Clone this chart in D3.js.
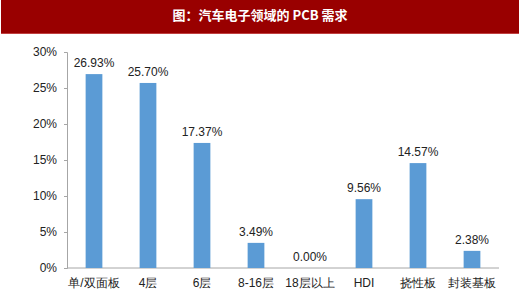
<!DOCTYPE html>
<html>
<head>
<meta charset="utf-8">
<script src="https://cdn.jsdelivr.net/npm/d3@7"></script>
<style>
  body { margin: 0; background: #fff; }
  svg { display: block; font-family: "Liberation Sans", Arial, "Noto Sans CJK SC", sans-serif; }
</style>
</head>
<body>
<svg id="chart" width="520" height="295"></svg>
<script>
const categories = ["单/双面板", "4层", "6层", "8-16层", "18层以上", "HDI", "挠性板", "封装基板"];
const shares = [26.93, 25.70, 17.37, 3.49, 0.00, 9.56, 14.57, 2.38];
const yTicks = [0, 5, 10, 15, 20, 25, 30];
const title = "图：汽车电子领域的 PCB 需求";

const width = 520, height = 295;
const margin = { top: 52, right: 21, bottom: 27, left: 67 };

const svg = d3.select("#chart");

// title banner
svg.append("rect")
  .attr("x", 1).attr("y", 0)
  .attr("width", width - 2).attr("height", 34)
  .attr("fill", "#990000");
svg.append("rect")
  .attr("x", 1).attr("y", 33)
  .attr("width", width - 2).attr("height", 1)
  .attr("fill", "#c04040");
svg.append("text")
  .attr("x", width / 2).attr("y", 20)
  .attr("text-anchor", "middle")
  .attr("fill", "#fff")
  .attr("font-size", 13)
  .attr("font-weight", "bold")
  .attr("font-family", "'Noto Sans CJK SC', sans-serif")
  .text(title);

const x = d3.scaleBand()
  .domain(categories)
  .range([margin.left, width - margin.right])
  .paddingInner(0.69)
  .paddingOuter(0.345);

const y = d3.scaleLinear()
  .domain([0, 30])
  .range([height - margin.bottom, margin.top]);

const yAxis = svg.append("g")
  .attr("transform", `translate(${margin.left},0)`)
  .call(d3.axisLeft(y).tickValues(yTicks).tickSize(3).tickPadding(7).tickFormat(d => d + "%"));
yAxis.select(".domain").attr("stroke", "#a6a6a6");
yAxis.selectAll(".tick line").attr("stroke", "#a6a6a6");
yAxis.selectAll("text").attr("font-size", 12).attr("fill", "#222");

const xAxis = svg.append("g")
  .attr("transform", `translate(0,${height - margin.bottom})`)
  .call(d3.axisBottom(x).tickSize(0).tickPadding(10));
xAxis.select(".domain").attr("stroke", "#a6a6a6").attr("d", `M${margin.left},0H${width - margin.right}`);
xAxis.selectAll("text").attr("font-size", 12).attr("fill", "#222");

svg.append("g")
  .selectAll("rect")
  .data(shares)
  .join("rect")
  .attr("x", (d, i) => x(categories[i]))
  .attr("y", d => y(d))
  .attr("width", x.bandwidth())
  .attr("height", d => y(0) - y(d))
  .attr("fill", "#5b9bd5");

svg.append("g")
  .selectAll("text")
  .data(shares)
  .join("text")
  .attr("x", (d, i) => x(categories[i]) + x.bandwidth() / 2)
  .attr("y", d => y(d) - 7)
  .attr("text-anchor", "middle")
  .attr("font-size", 12)
  .attr("fill", "#222")
  .text(d => d.toFixed(2) + "%");
</script>
</body>
</html>
